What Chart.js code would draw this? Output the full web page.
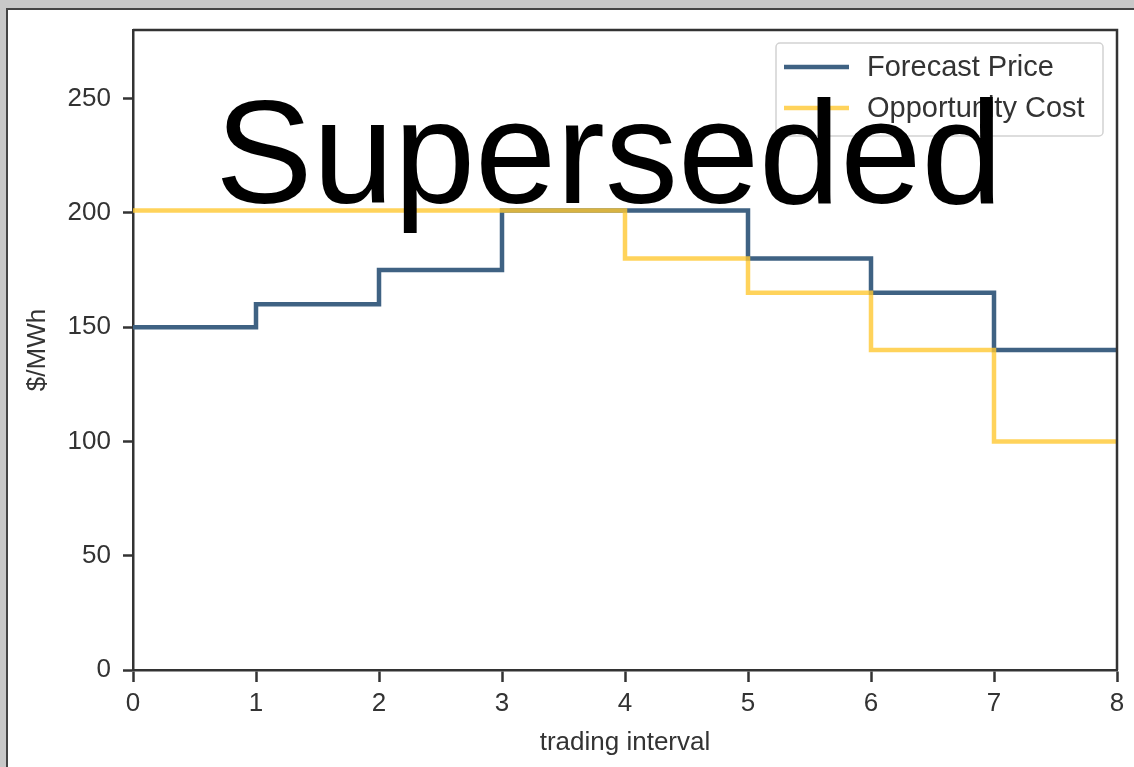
<!DOCTYPE html>
<html>
<head>
<meta charset="utf-8">
<script src="https://cdn.jsdelivr.net/npm/chart.js@4.4.1/dist/chart.umd.min.js"></script>
<style>
  html, body { margin: 0; padding: 0; background: #c8c8c8; overflow: hidden; }
  #panel { position: absolute; left: 6px; top: 8px; width: 1200px; height: 800px;
           background: #fff; border-left: 2px solid #444; border-top: 2px solid #444; }
  #myChart { position: absolute; left: 0; top: 0; }
</style>
</head>
<body>
<div id="panel"></div>
<canvas id="myChart" width="1134" height="767"></canvas>
<script>
const intervals = [0, 1, 2, 3, 4, 5, 6, 7, 8]
const forecastPrice = [150, 160, 175, 201, 201, 180, 165, 140]
const opportunityCost = [201, 201, 201, 201, 180, 165, 140, 100]
const yTicks = [0, 50, 100, 150, 200, 250]

const FONT = "'Liberation Sans', Arial, sans-serif"
const INK = '#333'

// steps-post: each value holds until the next interval, repeat last to close
const toSteps = vals => intervals.map((x, i) => ({ x, y: vals[Math.min(i, vals.length - 1)] }))

const frameAndExtras = {
    id: 'frameAndExtras',
    afterDatasetsDraw(chart) {
        const { ctx, chartArea: a } = chart
        ctx.save()
        ctx.strokeStyle = INK
        ctx.lineWidth = 2.5
        ctx.beginPath()
        ctx.moveTo(a.left, a.top)
        ctx.lineTo(a.right, a.top)
        ctx.lineTo(a.right, a.bottom)
        ctx.stroke()
        ctx.restore()
    },
    afterDraw(chart) {
        const { ctx, chartArea: a } = chart
        ctx.save()
        // legend box
        const bx = a.right - 341, by = a.top + 13, bw = 327, bh = 93
        ctx.fillStyle = 'rgba(255,255,255,0.85)'
        ctx.strokeStyle = '#d2d2d2'
        ctx.lineWidth = 1.5
        ctx.beginPath()
        ctx.roundRect(bx, by, bw, bh, 4)
        ctx.fill()
        ctx.stroke()
        ctx.font = `29px ${FONT}`
        ctx.textBaseline = 'middle'
        ctx.textAlign = 'left'
        chart.data.datasets.forEach((ds, i) => {
            const y = by + 24 + i * 41
            ctx.strokeStyle = ds.borderColor
            ctx.lineWidth = 4.5
            ctx.beginPath()
            ctx.moveTo(bx + 8, y)
            ctx.lineTo(bx + 73, y)
            ctx.stroke()
            ctx.fillStyle = INK
            ctx.fillText(ds.label, bx + 91, y + 1)
        })
        // watermark
        ctx.fillStyle = '#000'
        ctx.font = `146px ${FONT}`
        ctx.textAlign = 'center'
        ctx.textBaseline = 'alphabetic'
        ctx.fillText('Superseded', 609, 203)
        ctx.restore()
    }
}

const chart = new Chart("myChart", {
    type: "line",
    data: {
        datasets: [{
            label: 'Forecast Price',
            data: toSteps(forecastPrice),
            borderColor: '#3f6283',
            stepped: 'before',
            order: 1,
        }, {
            label: 'Opportunity Cost',
            data: toSteps(opportunityCost),
            borderColor: 'rgba(255,200,50,0.8)',
            stepped: 'before',
            order: 0,
        }]
    },
    options: {
        responsive: false,
        animation: false,
        devicePixelRatio: 1,
        layout: { padding: { top: 30, right: 17, left: 0, bottom: 0 } },
        elements: {
            point: { radius: 0 },
            line: { borderWidth: 4.5, borderCapStyle: 'butt', borderJoinStyle: 'miter', tension: 0 }
        },
        plugins: { legend: { display: false }, tooltip: { enabled: false } },
        scales: {
            x: {
                type: 'linear',
                min: 0, max: 8,
                afterBuildTicks: s => { s.ticks = intervals.map(v => ({ value: v })) },
                afterFit: s => { s.height = 97 },
                grid: { drawOnChartArea: false, drawTicks: true, tickLength: 12, tickColor: INK, tickWidth: 2.5 },
                border: { color: INK, width: 2.5 },
                ticks: { color: INK, padding: 6, maxRotation: 0, font: { family: FONT, size: 26 } },
                title: { display: true, text: 'trading interval', color: INK,
                         font: { family: FONT, size: 26 }, padding: { top: 0, bottom: 9 } }
            },
            y: {
                min: 0, max: 280,
                afterBuildTicks: s => { s.ticks = yTicks.map(v => ({ value: v })) },
                afterFit: s => { s.width = 133 },
                grid: { drawOnChartArea: false, drawTicks: true, tickLength: 10, tickColor: INK, tickWidth: 2.5 },
                border: { color: INK, width: 2.5 },
                ticks: { color: INK, padding: 12, font: { family: FONT, size: 26 } },
                title: { display: true, text: '$/MWh', color: INK,
                         font: { family: FONT, size: 26 }, padding: { top: 22, bottom: 0 } }
            }
        }
    },
    plugins: [frameAndExtras]
});
</script>
</body>
</html>
